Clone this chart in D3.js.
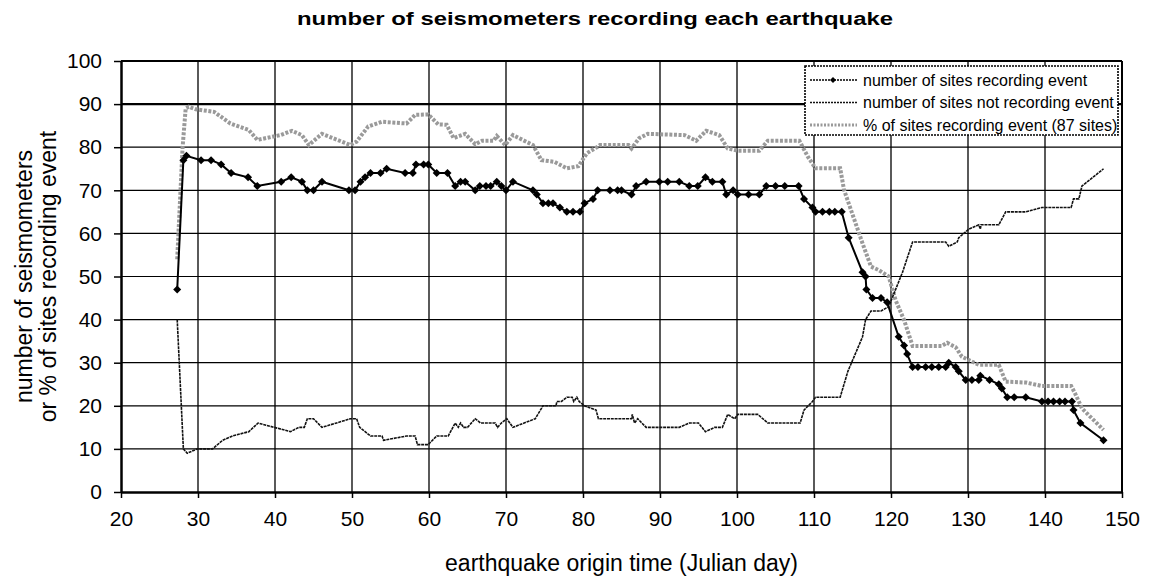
<!DOCTYPE html>
<html>
<head>
<meta charset="utf-8">
<script src="https://cdn.jsdelivr.net/npm/d3@7"></script>
<style>
  body { margin: 0; background: #fff; }
  svg { display: block; font-family: "Liberation Sans", Arial, sans-serif; }
</style>
</head>
<body>
<svg id="chart" width="1149" height="581"></svg>
<script>
// --- Data ---
const recDays = [27.3, 28.1, 28.5, 30.4, 31.7, 33.0, 34.3, 36.5, 37.7, 40.8, 42.1, 43.5, 44.2, 45.0, 46.1,
    49.6, 50.4, 51.1, 51.7, 52.4, 53.7, 54.5, 56.9, 57.9, 58.3, 59.3, 59.9, 61.0, 62.4, 63.4, 64.1, 64.7,
    66.0, 66.6, 67.4, 68.0, 68.8, 69.4, 70.0, 70.9, 73.5, 74.0, 74.8, 75.5, 76.1, 77.0, 77.9, 78.7, 79.6,
    80.2, 81.3, 81.9, 83.5, 84.5, 85.0, 86.3, 86.9, 88.2, 89.9, 91.0, 92.5, 93.8, 94.9, 95.9, 96.8, 98.1,
    98.6, 99.5, 100.1, 101.5, 102.9, 103.8, 105.0, 106.2, 108.0, 108.7, 109.8, 110.2, 111.1, 112.0, 112.7,
    113.6, 114.5, 116.3, 116.7, 116.8, 117.6, 118.7, 119.5, 121.0, 121.7, 122.1, 122.8, 123.5, 124.5, 125.3,
    126.2, 127.1, 127.5, 128.4, 128.8, 129.7, 130.5, 131.4, 131.6, 132.8, 134.0, 134.4, 135.1, 136.0, 137.5,
    139.6, 140.4, 141.1, 141.9, 142.6, 143.5, 143.7, 144.6, 147.6];
const recCount = [47, 77, 78, 77, 77, 76, 74, 73, 71, 72, 73, 72, 70, 70, 72,
    70, 70, 72, 73, 74, 74, 75, 74, 74, 76, 76, 76, 74, 74, 71, 72, 72,
    70, 71, 71, 71, 72, 71, 70, 72, 70, 69, 67, 67, 67, 66, 65, 65, 65,
    67, 68, 70, 70, 70, 70, 69, 71, 72, 72, 72, 72, 71, 71, 73, 72, 72,
    69, 70, 69, 69, 69, 71, 71, 71, 71, 68, 66, 65, 65, 65, 65,
    65, 59, 51, 50, 47, 45, 45, 44, 36, 34, 32, 29, 29, 29, 29,
    29, 29, 30, 29, 28, 26, 26, 26, 27, 26, 25, 24, 22, 22, 22,
    21, 21, 21, 21, 21, 21, 19, 16, 12];

const notDays = [27.3, 28.1, 28.6, 29.9, 31.9, 33.2, 34.5, 36.6, 37.8, 42.0, 43.1, 43.8, 44.2, 45.0, 46.1,
    49.8, 50.6, 51.0, 52.4, 53.9, 54.1, 57.1, 58.2, 58.5, 59.9, 61.0, 62.5, 63.4, 63.8, 64.1, 64.5, 65.0,
    66.0, 66.7, 68.6, 68.9, 69.4, 70.1, 70.9, 73.8, 74.8, 76.5, 76.6, 77.2, 77.9, 78.6, 78.8, 79.2, 79.5,
    80.2, 81.7, 82.0, 86.3, 86.4, 86.7, 87.1, 88.2, 92.5, 93.8, 95.0, 95.9, 97.1, 98.1, 98.8, 99.7, 100.1,
    102.7, 104.0, 108.2, 108.7, 109.8, 110.2, 113.4, 114.4, 116.3, 116.7, 117.4, 118.7, 119.7, 121.5, 122.8,
    127.1, 127.5, 128.6, 128.8, 130.1, 131.4, 131.6, 131.7, 134.0, 134.9, 137.5, 139.6, 143.4, 143.7, 144.4,
    144.8, 147.6];
const notCount = [40, 10, 9, 10, 10, 12, 13, 14, 16, 14, 15, 15, 17, 17, 15,
    17, 17, 15, 13, 13, 12, 13, 13, 11, 11, 13, 13, 16, 15, 16, 15, 15,
    17, 16, 16, 15, 16, 17, 15, 17, 20, 20, 21, 21, 22, 22, 21, 22, 21,
    20, 19, 17, 17, 18, 16, 17, 15, 15, 16, 16, 14, 15, 15, 18, 17, 18,
    18, 16, 16, 19, 21, 22, 22, 28, 36, 40, 42, 42, 43, 51, 58,
    58, 57, 58, 59, 61, 62, 61, 62, 62, 65, 65, 66, 66, 68, 68,
    71, 75];

const pctDays = [27.3, 28.0, 28.4, 28.8, 29.7, 32.1, 34.2, 36.6, 37.7, 40.7, 42.2, 43.5, 44.4, 46.1, 49.8,
    50.6, 52.1, 53.9, 57.1, 58.2, 59.9, 61.2, 62.3, 63.2, 64.7, 66.0, 66.9, 68.4, 68.8, 69.9, 70.9, 73.5,
    74.6, 76.3, 77.9, 79.4, 80.5, 81.8, 82.2, 85.9, 86.3, 87.3, 88.4, 93.2, 94.7, 96.0, 97.7, 98.8, 100.1,
    102.9, 104.0, 108.1, 109.2, 110.2, 113.4, 113.9, 116.3, 117.4, 118.4, 119.7, 120.6, 121.7, 122.8, 126.6,
    127.3, 128.4, 129.2, 131.4, 134.0, 134.9, 137.5, 139.6, 143.4, 143.9, 144.8, 147.6];
const pctValue = [54, 80, 89, 89.4, 88.8, 88.2, 85.5, 84, 81.7, 82.8, 83.8, 82.8, 80.5, 83.1, 80.5,
    81.3, 84.8, 85.9, 85.5, 87.5, 87.6, 85.3, 85.2, 82.1, 83.1, 80.7, 81.5, 81.5, 82.6, 80.5, 82.8, 80.5,
    77, 76.6, 75.1, 75.6, 78.6, 80, 80.5, 80.5, 79.7, 82.1, 83.1, 82.8, 81.5, 83.8, 82.8, 79.7, 79.2,
    79.2, 81.5, 81.5, 77.8, 75.1, 75.1, 70.1, 57.7, 52.3, 51.5, 50, 44.5, 39.9, 33.9, 33.9,
    34.6, 33.6, 31.4, 29.5, 29.5, 25.6, 25.4, 24.6, 24.6, 22.9, 19.4, 14.4];

const xTicks = [20, 30, 40, 50, 60, 70, 80, 90, 100, 110, 120, 130, 140, 150];
const yTicks = [0, 10, 20, 30, 40, 50, 60, 70, 80, 90, 100];

const seriesNames = [
    "number of sites recording event",
    "number of sites not recording event",
    "% of sites recording event (87 sites)"
];

// --- Setup ---
const svg = d3.select("#chart");
const W = 1149, H = 581;
const margin = {top: 61, right: 27, bottom: 89, left: 121};

svg.append("rect").attr("width", W).attr("height", H).attr("fill", "#fff");

const x = d3.scaleLinear().domain([20, 150]).range([margin.left, W - margin.right]);
const y = d3.scaleLinear().domain([0, 100]).range([H - margin.bottom, margin.top]);

const zip = (xs, ys) => xs.map((d, i) => ({d, v: ys[i]}));
const recData = zip(recDays, recCount);
const notData = zip(notDays, notCount);
const pctData = zip(pctDays, pctValue);

// --- Grid ---
const grid = svg.append("g").attr("stroke", "#000");
grid.selectAll("line.h").data(yTicks.filter(t => t > 0)).join("line")
    .attr("x1", x(20)).attr("x2", x(150))
    .attr("y1", t => y(t)).attr("y2", t => y(t))
    .attr("stroke-width", t => (t === 90 || t === 100) ? 2.2 : 1.2);
grid.selectAll("line.v").data(xTicks.filter(t => t > 20)).join("line")
    .attr("y1", y(0)).attr("y2", y(100))
    .attr("x1", t => x(t)).attr("x2", t => x(t))
    .attr("stroke-width", t => t === 150 ? 2 : 1.3);

// --- Axes ---
const fontAxis = 21;
const xAxis = svg.append("g")
    .attr("transform", `translate(0,${y(0)})`)
    .call(d3.axisBottom(x).tickValues(xTicks).tickSize(6).tickSizeOuter(0).tickPadding(13));
const yAxis = svg.append("g")
    .attr("transform", `translate(${x(20)},0)`)
    .call(d3.axisLeft(y).tickValues(yTicks).tickSize(7).tickSizeOuter(0).tickPadding(12));

[xAxis, yAxis].forEach(g => {
    g.select(".domain").attr("stroke", "#000").attr("stroke-width", 2.5);
    g.selectAll(".tick line").attr("stroke", "#000").attr("stroke-width", 1.5);
    g.selectAll(".tick text").attr("fill", "#000")
        .style("font-size", fontAxis + "px")
        .style("font-family", '"Liberation Sans", Arial, sans-serif');
});

// --- Lines ---
const line = d3.line().x(p => x(p.d)).y(p => y(p.v));

svg.append("path").datum(pctData)
    .attr("d", line).attr("fill", "none")
    .attr("stroke", "#9a9a9a").attr("stroke-width", 4)
    .attr("stroke-dasharray", "3,1.6");

svg.append("path").datum(notData)
    .attr("d", line).attr("fill", "none")
    .attr("stroke", "#111").attr("stroke-width", 1.6)
    .attr("stroke-dasharray", "3,0.8");

svg.append("path").datum(recData)
    .attr("d", line).attr("fill", "none")
    .attr("stroke", "#000").attr("stroke-width", 2);

const diamond = "M0,-4L4,0L0,4L-4,0Z";
svg.append("g").selectAll("path").data(recData).join("path")
    .attr("d", diamond)
    .attr("transform", p => `translate(${x(p.d)},${y(p.v)})`)
    .attr("fill", "#000");

// --- Legend ---
const leg = svg.append("g").attr("transform", "translate(805,66)");
leg.append("rect").attr("width", 313).attr("height", 69)
    .attr("fill", "#fff").attr("stroke", "#000")
    .attr("stroke-width", 1.6).attr("stroke-dasharray", "2,1");

const legStyles = [
    {stroke: "#000", w: 1.6, dash: "2,1", marker: true},
    {stroke: "#111", w: 1.6, dash: "2,1", marker: false},
    {stroke: "#9a9a9a", w: 3, dash: "2,1.5", marker: false}
];
seriesNames.forEach((name, i) => {
    const cy = 14 + i * 22.5;
    const s = legStyles[i];
    leg.append("line").attr("x1", 5).attr("x2", 52).attr("y1", cy).attr("y2", cy)
        .attr("stroke", s.stroke).attr("stroke-width", s.w).attr("stroke-dasharray", s.dash);
    if (s.marker) {
        leg.append("path").attr("d", "M0,-3L3,0L0,3L-3,0Z")
            .attr("transform", `translate(28,${cy})`).attr("fill", "#000");
    }
    leg.append("text").attr("x", 58).attr("y", cy).attr("dy", "0.35em")
        .style("font-size", "16px").attr("fill", "#000").text(name);
});

// --- Titles ---
svg.append("text").attr("x", 595).attr("y", 25)
    .attr("text-anchor", "middle")
    .style("font-size", "18px").style("font-weight", "bold")
    .attr("textLength", 596).attr("lengthAdjust", "spacingAndGlyphs")
    .text("number of seismometers recording each earthquake");

svg.append("text").attr("x", (x(20) + x(150)) / 2).attr("y", 571)
    .attr("text-anchor", "middle").style("font-size", "23px")
    .text("earthquake origin time (Julian day)");

const yl = svg.append("text")
    .attr("transform", `translate(0,${(y(0) + y(100)) / 2}) rotate(-90)`)
    .attr("text-anchor", "middle").style("font-size", "23px");
yl.append("tspan").attr("x", 0).attr("y", 32).text("number of seismometers");
yl.append("tspan").attr("x", 0).attr("y", 56).text("or % of sites recording event");
</script>
</body>
</html>
